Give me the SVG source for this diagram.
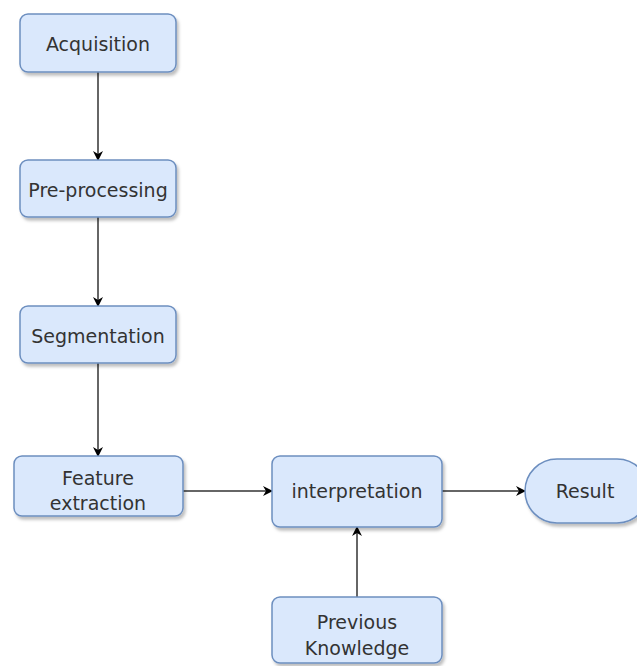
<svg xmlns="http://www.w3.org/2000/svg" width="637" height="666" viewBox="0 0 637 666">
<defs>
<filter id="sh" x="-10%" y="-10%" width="130%" height="140%"><feDropShadow dx="2" dy="3" stdDeviation="1.5" flood-color="#000" flood-opacity="0.25"/></filter>
<marker id="ar" viewBox="0 0 10 10" refX="9" refY="5" markerWidth="10" markerHeight="10" markerUnits="userSpaceOnUse" orient="auto"><path d="M0,0 L10,5 L0,10 L3,5 Z" fill="#000"/></marker>
</defs>
<style>
.b{fill:#dae8fc;stroke:#6c8ebf;stroke-width:1.5;filter:url(#sh)}
.t{font-family:"DejaVu Sans",sans-serif;font-size:19px;fill:#333;text-anchor:middle}
.c{stroke:#333;stroke-width:1.5;fill:none;marker-end:url(#ar)}
</style>
<rect width="637" height="666" fill="#fff"/>
<g id="connectors">
<line class="c" x1="98" y1="72" x2="98" y2="160"/>
<line class="c" x1="98" y1="217" x2="98" y2="306"/>
<line class="c" x1="98" y1="363" x2="98" y2="456"/>
<line class="c" x1="183" y1="491" x2="272" y2="491"/>
<line class="c" x1="442" y1="491" x2="525" y2="491"/>
<line class="c" x1="357" y1="597" x2="357" y2="527"/>
</g>
<g id="acquisition"><rect class="b" x="20" y="14" width="156" height="58" rx="8"/><text class="t" x="98" y="51">Acquisition</text></g>
<g id="preprocessing"><rect class="b" x="20" y="160" width="156" height="57" rx="8"/><text class="t" x="98" y="197">Pre-processing</text></g>
<g id="segmentation"><rect class="b" x="20" y="306" width="156" height="57" rx="8"/><text class="t" x="98" y="343">Segmentation</text></g>
<g id="feature"><rect class="b" x="14" y="456" width="169" height="60" rx="8"/><text class="t" x="98" y="485">Feature</text><text class="t" x="98" y="510">extraction</text></g>
<g id="interpretation"><rect class="b" x="272" y="456" width="170" height="71" rx="8"/><text class="t" x="357" y="498">interpretation</text></g>
<g id="result"><rect class="b" x="525" y="459" width="124" height="64" rx="32"/><text class="t" x="585" y="498">Result</text></g>
<g id="previous"><rect class="b" x="272" y="597" width="170" height="66" rx="8"/><text class="t" x="357" y="629">Previous</text><text class="t" x="357" y="655">Knowledge</text></g>
</svg>
